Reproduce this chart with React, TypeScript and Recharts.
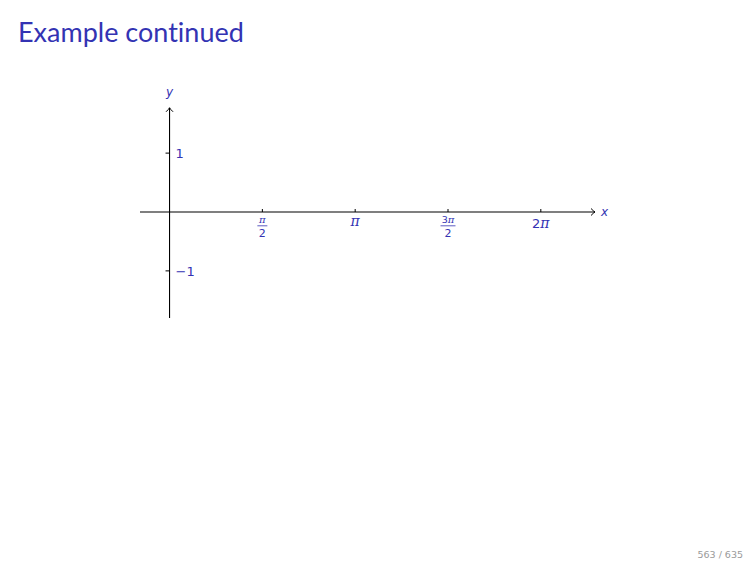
import { LineChart, XAxis, YAxis, ReferenceLine, ReferenceDot } from "recharts";

const PI = Math.PI;

// axis extents (data units)
const xDomain: [number, number] = [-0.5, 7.2];
const yDomain: [number, number] = [-1.8, 1.8];
const yAxisTop = 1.77;

// ticks
const xTickValues = [PI / 2, PI, (3 * PI) / 2, 2 * PI];
const xTickCoefs = ["", "", "3", "2"];
const xTickDenominators = ["2", "", "2", ""];
const yTickValues = [1, -1];
const yTickLabels = ["1", "−1"];

const extentData = [{ x: xDomain[0] }, { x: xDomain[1] }];

const BLUE = "#3333b3";
const FONT = "'DejaVu Sans', sans-serif";
const PI_FONT = "'DejaVu Serif', serif";

function arrowHead(x: number, y: number, dir: "right" | "up") {
  if (dir === "right") {
    return `M ${x - 4} ${y - 3.5} Q ${x - 1.5} ${y - 0.8} ${x} ${y} Q ${x - 1.5} ${y + 0.8} ${x - 4} ${y + 3.5}`;
  }
  return `M ${x - 3.5} ${y + 4} Q ${x - 0.8} ${y + 1.5} ${x} ${y} Q ${x + 0.8} ${y + 1.5} ${x + 3.5} ${y + 4}`;
}

const XAxisLine = (props: any) => {
  const { x1, y1, x2, y2 } = props;
  return (
    <g>
      <line x1={x1} y1={y1} x2={x2} y2={y2} stroke="#000" strokeWidth={1.1} />
      <path d={arrowHead(x2, y2, "right")} stroke="#000" strokeWidth={1} fill="none" />
      <text x={x2 + 6} y={y2 + 4} fill={BLUE} fontFamily={FONT} fontStyle="italic" fontSize={12}>
        x
      </text>
    </g>
  );
};

const YAxisLine = (props: any) => {
  const { x1, y1, x2, y2 } = props;
  const topY = Math.min(y1, y2);
  return (
    <g>
      <line x1={x1} y1={y1} x2={x2} y2={y2} stroke="#000" strokeWidth={1.1} />
      <path d={arrowHead(x1, topY, "up")} stroke="#000" strokeWidth={1} fill="none" />
      <text x={x1} y={topY - 12} textAnchor="middle" fill={BLUE} fontFamily={FONT} fontStyle="italic" fontSize={12}>
        y
      </text>
    </g>
  );
};

const makeXTick = (coef: string, den: string) => (props: any) => {
  const { cx, cy } = props;
  const half = coef ? 7.5 : 5;
  return (
    <g>
      <line x1={cx} y1={cy - 3} x2={cx} y2={cy} stroke="#000" strokeWidth={1} />
      {den ? (
        <g fill={BLUE} textAnchor="middle">
          <text x={cx} y={cy + 11}>
            {coef && (
              <tspan fontFamily={FONT} fontSize={9.5}>
                {coef}
              </tspan>
            )}
            <tspan fontFamily={PI_FONT} fontStyle="italic" fontSize={10}>
              π
            </tspan>
          </text>
          <line x1={cx - half} x2={cx + half} y1={cy + 13.8} y2={cy + 13.8} stroke={BLUE} strokeWidth={0.8} />
          <text x={cx} y={cy + 24.5} fontFamily={FONT} fontSize={11}>
            {den}
          </text>
        </g>
      ) : (
        <text x={cx} y={cy + (coef ? 16 : 14)} fill={BLUE} textAnchor="middle">
          {coef && (
            <tspan fontFamily={FONT} fontSize={13}>
              {coef}
            </tspan>
          )}
          <tspan fontFamily={PI_FONT} fontStyle="italic" fontSize={14}>
            π
          </tspan>
        </text>
      )}
    </g>
  );
};

const makeYTick = (label: string) => (props: any) => {
  const { cx, cy } = props;
  return (
    <g>
      <line x1={cx - 4} y1={cy} x2={cx} y2={cy} stroke="#000" strokeWidth={1} />
      <text x={cx + 6} y={cy + 5} fill={BLUE} fontFamily={FONT} fontSize={13}>
        {label}
      </text>
    </g>
  );
};

export default function App() {
  return (
    <div style={{ position: "absolute", left: 0, top: 0, width: 756, height: 567, background: "#fff" }}>
      <div
        style={{
          position: "absolute",
          left: 18,
          top: 15,
          fontFamily: "Lato, sans-serif",
          fontSize: 27,
          color: BLUE,
          lineHeight: "34px",
          whiteSpace: "nowrap",
          fontVariantLigatures: "none"
        }}
      >
        Example continued
      </div>
      <LineChart
        width={756}
        height={567}
        data={extentData}
        margin={{ top: 106, right: 161, left: 140, bottom: 249 }}
        style={{ position: "absolute", left: 0, top: 0 }}
      >
        <XAxis dataKey="x" type="number" domain={xDomain} hide allowDataOverflow />
        <YAxis type="number" domain={yDomain} hide allowDataOverflow />
        <ReferenceLine
          segment={[
            { x: xDomain[0], y: 0 },
            { x: xDomain[1], y: 0 }
          ]}
          ifOverflow="visible"
          shape={XAxisLine}
        />
        <ReferenceLine
          segment={[
            { x: 0, y: yDomain[0] },
            { x: 0, y: yAxisTop }
          ]}
          ifOverflow="visible"
          shape={YAxisLine}
        />
        {xTickValues.map((v, i) => (
          <ReferenceDot
            key={`xt${i}`}
            x={v}
            y={0}
            r={0}
            ifOverflow="visible"
            shape={makeXTick(xTickCoefs[i], xTickDenominators[i])}
          />
        ))}
        {yTickValues.map((v, i) => (
          <ReferenceDot key={`yt${i}`} x={0} y={v} r={0} ifOverflow="visible" shape={makeYTick(yTickLabels[i])} />
        ))}
      </LineChart>
      <div
        style={{
          position: "absolute",
          right: 13,
          top: 549,
          fontFamily: "'DejaVu Sans', sans-serif",
          fontSize: 9.5,
          color: "#9a9a9a"
        }}
      >
        563 / 635
      </div>
    </div>
  );
}
